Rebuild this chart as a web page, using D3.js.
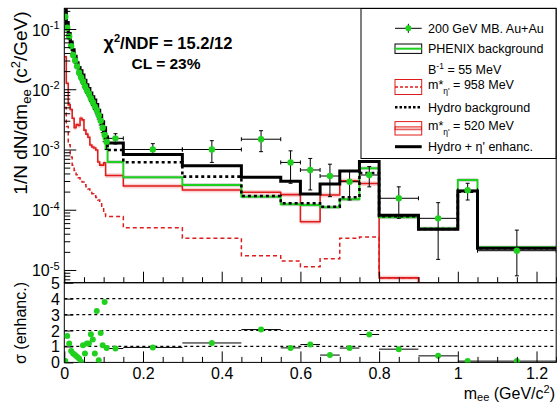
<!DOCTYPE html>
<html>
<head>
<meta charset="utf-8">
<script src="https://cdn.jsdelivr.net/npm/d3@7"></script>
<style>
body{margin:0;background:#fff}
svg{display:block;font-family:"Liberation Sans",Arial,sans-serif}
</style>
</head>
<body>
<svg id="mySVG" width="557" height="403"></svg>
<script>
//---bin edges (GeV/c2) shared by histograms and data---
var binEdges=[0,0.005,0.01,0.015,0.02,0.025,0.03,0.035,0.04,0.045,0.05,0.055,0.06,0.065,0.07,0.075,0.08,0.085,0.09,0.095,0.1,0.105,0.11,
    0.15,0.3,0.45,0.55,0.6,0.65,0.7,0.75,0.8,0.9,1.0,1.05,1.25]

//---model histograms---
var phenixBkg=[0.17,0.11,0.075,0.053,0.040,0.031,0.024,0.0195,0.016,0.0135,0.0114,0.0096,0.0083,0.0071,0.0061,0.0052,0.0044,0.0037,0.0029,0.0021,0.0015,0.00105,
    6.2e-4,3.46e-4,2.58e-4,1.65e-4,1.23e-4,1.2e-4,1.10e-4,1.49e-4,4.88e-4,7.5e-5,4.9e-5,3.12e-4,2.38e-5]
var hydroBkg=[0.18,0.115,0.079,0.056,0.042,0.033,0.025,0.0205,0.017,0.0142,0.012,0.0101,0.0087,0.0075,0.0064,0.0055,0.0046,0.0039,0.0031,0.0023,0.0017,0.0012,
    9.8e-4,6.14e-4,3.54e-4,1.69e-4,1.28e-4,1.28e-4,1.12e-4,1.61e-4,4.07e-4,7.8e-5,4.8e-5,2.0e-4,2.3e-5]
var hydroEnh=[0.215,0.128,0.0845,0.0606,0.0453,0.0353,0.0276,0.023,0.0203,0.0173,0.0141,0.0119,0.0103,0.0087,0.0075,0.0066,0.0056,0.0045,0.0037,0.0029,0.0023,0.0016,
    1.28e-3,8.26e-4,5.38e-4,3.46e-4,2.97e-4,1.82e-4,2.67e-4,4.4e-4,6.3e-4,8.1e-5,4.73e-5,2.05e-4,2.29e-5]
var eta520=[0.0347,0.0126,0.0055,0.0046,0.0033,0.0023,0.0026,0.0025,0.0033,0.0031,0.0021,0.0018,0.0016,0.00119,0.0011,0.00106,0.00098,0.00062,0.00055,0.00055,0.0006,0.00037,
    3.7e-4,2.48e-4,2.13e-4,1.95e-4,1.78e-4,6.3e-5,1.76e-4,3.03e-4,2.73e-4,7.4e-6,null,null,null]
var eta958=[0.005,0.0024,0.0012,7.5e-4,5.5e-4,4.5e-4,3.8e-4,3.4e-4,3.1e-4,2.9e-4,2.6e-4,2.4e-4,2.2e-4,2.0e-4,1.85e-4,1.7e-4,1.6e-4,1.45e-4,1.3e-4,1.1e-4,8.5e-5,7.7e-5,
    7.7e-5,5.0e-5,3.36e-5,1.73e-5,1.41e-5,1.13e-5,1.54e-5,3.36e-5,3.53e-5,7.4e-6,null,null,null]

//---200 GeV MB Au+Au data---
var dataMass=[0.0025,0.0075,0.0125,0.0175,0.0225,0.0275,0.0325,0.0375,0.0425,0.0475,0.0525,0.0575,0.0625,0.0675,0.0725,0.0775,0.0825,0.0875,0.0925,0.0975,0.1025,0.1075,
    0.13,0.225,0.375,0.5,0.575,0.625,0.675,0.725,0.775,0.85,0.95,1.025,1.15]
var dataVal=[0.16,0.105,0.075,0.052,0.037,0.030,0.024,0.019,0.0158,0.0135,0.0112,0.0096,0.0084,0.0071,0.0061,0.0052,0.0045,0.0037,0.0030,0.0023,0.00175,0.00135,
    0.00153,1.0e-3,1.0e-3,1.48e-3,6.1e-4,4.57e-4,3.63e-4,2.92e-4,3.77e-4,1.55e-4,7.2e-5,2.1e-4,2.09e-5]
var dataErrUp=[0.012,0.008,0.006,0.004,0.003,0.0025,0.002,0.0017,0.0015,0.0013,0.0011,0.001,0.0009,0.0008,0.0007,0.0006,0.0006,0.0005,0.00045,0.0004,0.0004,0.00035,
    0.0003,2.5e-4,4.0e-4,5.7e-4,3.4e-4,2.53e-4,2.07e-4,1.53e-4,1.43e-4,8.5e-5,5.9e-5,6.5e-5,2.5e-5]
var dataErrDown=[0.012,0.008,0.006,0.004,0.003,0.0025,0.002,0.0017,0.0015,0.0013,0.0011,0.001,0.0009,0.0008,0.0007,0.0006,0.0006,0.0005,0.00045,0.0004,0.0004,0.00035,
    0.0003,2.0e-4,3.9e-4,5.6e-4,3.35e-4,2.44e-4,1.98e-4,1.47e-4,1.37e-4,8.3e-5,5.7e-5,6.5e-5,1.29e-5]
var sigmaVal=[0.08,1.66,1.19,0.71,0.56,0.46,0.35,0.25,0.04,1.08,0.56,1.19,1.19,1.77,1.44,0.56,3.22,0.14,1.85,1.08,3.79,0.91,
    0.87,0.94,1.22,2.06,0.91,1.12,0.46,0.9,1.75,0.83,0.41,0.08,0.08]

//---axes---
var xTicks=[0,0.2,0.4,0.6,0.8,1.0,1.2]
var xMinorTicks=[0.05,0.1,0.15,0.25,0.3,0.35,0.45,0.5,0.55,0.65,0.7,0.75,0.85,0.9,0.95,1.05,1.1,1.15,1.25]
var yDecades=[-5,-4,-3,-2,-1]
var sigmaTicks=[0,1,2,3,4,5]
var sigmaLines=[1,2,3,4]

var legendLabels=["200 GeV MB. Au+Au","PHENIX background","B","m*","Hydro background","m*","Hydro + \u03b7' enhanc."]

var MySVG
var X0=64.3,X1=556.2,YT=8.3,YB=282.7,YB2=362.4
var xS=d3.scaleLinear().domain([0,1.25]).range([X0,X1])
var yMin=6.15e-6
var yU=d3.scaleLog().domain([yMin,0.2206]).range([YB,YT])
var yL=d3.scaleLinear().domain([0,5]).range([YB2,YB])
var GREEN="#1fd01f"
var RED="#e01b1b"

//---step outline of a histogram, null bins end the line---
function stepPath(vals)
{
    var d="",open=false
    for(var i=0;i<vals.length;i++)
    {
        var v=vals[i]
        if(v==null)
        {
            if(open){d+="V"+YB;open=false}
            continue
        }
        var yy=yU(Math.max(v,yMin))
        if(!open){d+="M"+xS(binEdges[i])+","+yy;open=true}
        else d+="V"+yy
        d+="H"+xS(binEdges[i+1])
    }
    if(open&&vals[vals.length-1]==null)d+="V"+YB
    return d
}

function drawBand(g,vals,fill,opac,fr)
{
    vals.forEach(function(v,i)
    {
        if(v==null)return
        var lo=Math.max(v*(1-fr),yMin)
        g.append("rect")
        .attr("x",xS(binEdges[i]))
        .attr("y",yU(v*(1+fr)))
        .attr("width",xS(binEdges[i+1])-xS(binEdges[i]))
        .attr("height",yU(lo)-yU(v*(1+fr)))
        .attr("fill",fill)
        .attr("fill-opacity",opac)
    })
}

function initChart()
{
    MySVG=d3.select("#mySVG")
    var defs=MySVG.append("defs")
    defs.append("clipPath").attr("id","upperClip").append("rect")
    .attr("x",X0).attr("y",YT).attr("width",X1-X0).attr("height",YB-YT)
    defs.append("clipPath").attr("id","lowerClip").append("rect")
    .attr("x",X0).attr("y",YB).attr("width",X1-X0).attr("height",YB2-YB)

    //---upper panel---
    var histG=MySVG.append("g").attr("clip-path","url(#upperClip)")
    drawBand(histG,phenixBkg,"#9a9a9a",0.45,0.07)
    drawBand(histG,eta520,RED,0.2,0.09)

    histG.append("path").attr("d",stepPath(eta958))
    .attr("fill","none").attr("stroke",RED).attr("stroke-width",1.5).attr("stroke-dasharray","4,3")
    histG.append("path").attr("d",stepPath(eta520))
    .attr("fill","none").attr("stroke",RED).attr("stroke-width",1.6)
    histG.append("path").attr("d",stepPath(phenixBkg))
    .attr("fill","none").attr("stroke",GREEN).attr("stroke-width",2)
    histG.append("path").attr("d",stepPath(hydroBkg))
    .attr("fill","none").attr("stroke","#000").attr("stroke-width",2.6).attr("stroke-dasharray","3,3")
    histG.append("path").attr("d",stepPath(hydroEnh))
    .attr("fill","none").attr("stroke","#000").attr("stroke-width",3)

    //---data points with error bars---
    var ptG=histG.append("g")
    dataMass.forEach(function(m,i)
    {
        var cx=xS(m),cy=yU(dataVal[i])
        var yTop=yU(dataVal[i]+dataErrUp[i]),yBot=yU(Math.max(dataVal[i]-dataErrDown[i],yMin*0.5))
        var xl=xS(binEdges[i]),xr=xS(binEdges[i+1])
        ptG.append("path")
        .attr("d","M"+xl+","+cy+"H"+xr+"M"+cx+","+yTop+"V"+yBot
            +"M"+(cx-2)+","+yTop+"H"+(cx+2)+"M"+(cx-2)+","+yBot+"H"+(cx+2)
            +"M"+xl+","+(cy-2)+"V"+(cy+2)+"M"+xr+","+(cy-2)+"V"+(cy+2))
        .attr("stroke","#000").attr("stroke-width",1).attr("fill","none")
    })
    ptG.selectAll("circle").data(dataMass).enter().append("circle")
    .attr("cx",function(d){return xS(d)})
    .attr("cy",function(d,i){return yU(dataVal[i])})
    .attr("r",3.2)
    .attr("fill",GREEN)

    //---frames---
    MySVG.append("rect").attr("x",X0).attr("y",YT).attr("width",X1-X0).attr("height",YB-YT)
    .attr("fill","none").attr("stroke","#000").attr("stroke-width",1)
    MySVG.append("rect").attr("x",X0).attr("y",YB).attr("width",X1-X0).attr("height",YB2-YB)
    .attr("fill","none").attr("stroke","#000").attr("stroke-width",1)

    //---upper x ticks (inward, no labels)---
    MySVG.append("g").attr("transform","translate(0,"+YB+")")
    .call(d3.axisBottom(xS).tickValues(xTicks).tickSize(-11).tickSizeOuter(0).tickFormat(""))
    .call(function(g){g.select(".domain").remove()})
    MySVG.append("g").attr("transform","translate(0,"+YB+")")
    .call(d3.axisBottom(xS).tickValues(xMinorTicks).tickSize(-5.5).tickSizeOuter(0).tickFormat(""))
    .call(function(g){g.select(".domain").remove()})

    //---upper y axis---
    var minors=[]
    yDecades.forEach(function(k){for(var j=2;j<10;j++){var v=j*Math.pow(10,k);if(v<=0.2206)minors.push(v)}})
    for(var j=7;j<10;j++)minors.push(j*1e-6)
    MySVG.append("g").attr("transform","translate("+X0+",0)")
    .call(d3.axisRight(yU).tickValues(yDecades.map(function(k){return Math.pow(10,k)})).tickSize(12).tickSizeOuter(0).tickFormat(""))
    .call(function(g){g.select(".domain").remove()})
    MySVG.append("g").attr("transform","translate("+X0+",0)")
    .call(d3.axisRight(yU).tickValues(minors).tickSize(6).tickSizeOuter(0).tickFormat(""))
    .call(function(g){g.select(".domain").remove()})
    var yLab=MySVG.append("g").attr("font-size",16).attr("fill","#000")
    yDecades.forEach(function(k)
    {
        var t=yLab.append("text").attr("x",59.5).attr("y",yU(Math.pow(10,k))+6.5).attr("text-anchor","end")
        t.append("tspan").text("10")
        t.append("tspan").attr("font-size",11).attr("dy",-6.5).text(String(k))
    })

    //---lower panel---
    var lowG=MySVG.append("g").attr("clip-path","url(#lowerClip)")
    lowG.selectAll("line.sig").data(sigmaLines).enter().append("line")
    .attr("x1",X0).attr("x2",X1)
    .attr("y1",function(d){return yL(d)}).attr("y2",function(d){return yL(d)})
    .attr("stroke","#000").attr("stroke-width",1.2).attr("stroke-dasharray","3,3")
    sigmaVal.forEach(function(s,i)
    {
        if(i<22)return
        lowG.append("line")
        .attr("x1",xS(binEdges[i])).attr("x2",xS(binEdges[i+1]))
        .attr("y1",yL(s)).attr("y2",yL(s))
        .attr("stroke","#000").attr("stroke-width",1)
    })
    lowG.selectAll("circle").data(sigmaVal).enter().append("circle")
    .attr("cx",function(d,i){return xS(dataMass[i])})
    .attr("cy",function(d){return yL(d)})
    .attr("r",3)
    .attr("fill",GREEN)

    MySVG.append("g").attr("transform","translate(0,"+YB2+")")
    .call(d3.axisBottom(xS).tickValues(xTicks).tickSize(-11).tickSizeOuter(0).tickPadding(5)
        .tickFormat(function(d){return d==0?"0":d==1?"1":d3.format(".1f")(d)}))
    .call(function(g){g.select(".domain").remove()})
    .call(function(g){g.selectAll("text").attr("font-size",16).attr("font-family","Liberation Sans, Arial, sans-serif").attr("fill","#000")})
    MySVG.append("g").attr("transform","translate(0,"+YB2+")")
    .call(d3.axisBottom(xS).tickValues(xMinorTicks).tickSize(-5.5).tickSizeOuter(0).tickFormat(""))
    .call(function(g){g.select(".domain").remove()})

    MySVG.append("g").attr("transform","translate("+X0+",0)")
    .call(d3.axisRight(yL).tickValues(sigmaTicks).tickSize(9).tickSizeOuter(0).tickFormat(""))
    .call(function(g){g.select(".domain").remove()})
    var sLab=MySVG.append("g").attr("font-size",16).attr("fill","#000")
    sigmaTicks.forEach(function(s)
    {
        sLab.append("text").attr("x",60).attr("y",yL(s)+6).attr("text-anchor","end").text(s)
    })

    //---axis titles---
    var yt=MySVG.append("text").attr("transform","translate(27,103) rotate(-90)")
    .attr("text-anchor","middle").attr("font-size",19).attr("fill","#000")
    yt.append("tspan").text("1/N dN/dm")
    yt.append("tspan").attr("font-size",13).attr("dy",4).text("ee")
    yt.append("tspan").attr("dy",-4).text(" (c")
    yt.append("tspan").attr("font-size",13).attr("dy",-7).text("2")
    yt.append("tspan").attr("dy",7).text("/GeV)")

    MySVG.append("text").attr("transform","translate(26,323) rotate(-90)")
    .attr("text-anchor","middle").attr("font-size",16).attr("fill","#000")
    .text("\u03c3 (enhanc.)")

    var xt=MySVG.append("text").attr("x",555).attr("y",398.5).attr("text-anchor","end")
    .attr("font-size",16).attr("fill","#000")
    xt.append("tspan").text("m")
    xt.append("tspan").attr("font-size",11).attr("dy",2.5).text("ee")
    xt.append("tspan").attr("dy",-2.5).text(" (GeV/c")
    xt.append("tspan").attr("font-size",11).attr("dy",-6).text("2")
    xt.append("tspan").attr("dy",6).text(")")

    //---fit annotation---
    var chi=MySVG.append("text").attr("x",168).attr("y",49).attr("text-anchor","middle")
    .attr("font-size",16.5).attr("font-weight","bold").attr("fill","#000")
    chi.append("tspan").attr("font-size",18).text("\u03c7")
    chi.append("tspan").attr("font-size",11).attr("dy",-7).text("2")
    chi.append("tspan").attr("dy",7).text("/NDF = 15.2/12")
    MySVG.append("text").attr("x",166).attr("y",69).attr("text-anchor","middle")
    .attr("font-size",15.5).attr("font-weight","bold").attr("fill","#000")
    .text("CL = 23%")

    //---legend---
    var leg=MySVG.append("g")
    leg.append("rect").attr("x",361).attr("y",8.5).attr("width",195).attr("height",150)
    .attr("fill","#fff").attr("stroke","#000").attr("stroke-width",1)
    var lx0=395,lx1=421.7,tx=428
    var rowY=[28.3,48.7,69.5,87,107.3,128.3,146.7]
    //data marker
    leg.append("line").attr("x1",lx0).attr("x2",lx1).attr("y1",rowY[0]).attr("y2",rowY[0]).attr("stroke","#000")
    leg.append("line").attr("x1",(lx0+lx1)/2).attr("x2",(lx0+lx1)/2).attr("y1",rowY[0]-4.5).attr("y2",rowY[0]+4.5).attr("stroke","#000")
    leg.append("circle").attr("cx",(lx0+lx1)/2).attr("cy",rowY[0]).attr("r",3).attr("fill",GREEN)
    //phenix bkg
    leg.append("rect").attr("x",lx0).attr("y",rowY[1]-4.7).attr("width",lx1-lx0).attr("height",9.4)
    .attr("fill","#fff").attr("stroke","#000").attr("stroke-width",1)
    leg.append("line").attr("x1",lx0).attr("x2",lx1).attr("y1",rowY[1]).attr("y2",rowY[1]).attr("stroke",GREEN).attr("stroke-width",2)
    //958
    leg.append("rect").attr("x",lx0).attr("y",rowY[3]-7.5).attr("width",lx1-lx0).attr("height",15)
    .attr("fill","#fff").attr("stroke",RED).attr("stroke-width",1)
    leg.append("line").attr("x1",lx0).attr("x2",lx1).attr("y1",rowY[3]).attr("y2",rowY[3]).attr("stroke",RED).attr("stroke-width",1.5).attr("stroke-dasharray","3,2")
    //hydro bkg
    leg.append("line").attr("x1",lx0).attr("x2",lx1).attr("y1",rowY[4]).attr("y2",rowY[4]).attr("stroke","#000").attr("stroke-width",2.6).attr("stroke-dasharray","2.5,2")
    //520
    leg.append("rect").attr("x",lx0).attr("y",rowY[5]-6.7).attr("width",lx1-lx0).attr("height",13.4)
    .attr("fill","#fff").attr("stroke",RED).attr("stroke-width",1)
    leg.append("rect").attr("x",lx0).attr("y",rowY[5]-1.5).attr("width",lx1-lx0).attr("height",3)
    .attr("fill",RED).attr("fill-opacity",0.3).attr("stroke",RED).attr("stroke-width",0.8)
    //hydro+eta
    leg.append("line").attr("x1",lx0).attr("x2",lx1).attr("y1",rowY[6]).attr("y2",rowY[6]).attr("stroke","#000").attr("stroke-width",3)

    var lt=leg.append("g").attr("font-size",12.5).attr("fill","#000")
    lt.append("text").attr("x",tx).attr("y",rowY[0]+4.5).text(legendLabels[0])
    lt.append("text").attr("x",tx).attr("y",rowY[1]+4.5).text(legendLabels[1])
    var b=lt.append("text").attr("x",tx).attr("y",rowY[2]+4.5)
    b.append("tspan").text("B")
    b.append("tspan").attr("font-size",8.5).attr("dy",-5).text("-1")
    b.append("tspan").attr("dy",5).text(" = 55 MeV")
    ;[[3,"958"],[5,"520"]].forEach(function(r)
    {
        var t=lt.append("text").attr("x",tx).attr("y",rowY[r[0]]+2)
        t.append("tspan").text("m*")
        t.append("tspan").attr("font-size",8.5).attr("dy",5).text("\u03b7'")
        t.append("tspan").attr("dy",-5).text(" = "+r[1]+" MeV")
    })
    lt.append("text").attr("x",tx).attr("y",rowY[4]+4.5).text(legendLabels[4])
    lt.append("text").attr("x",tx).attr("y",rowY[6]+4.5).text(legendLabels[6])
}

initChart()
</script>
</body>
</html>
